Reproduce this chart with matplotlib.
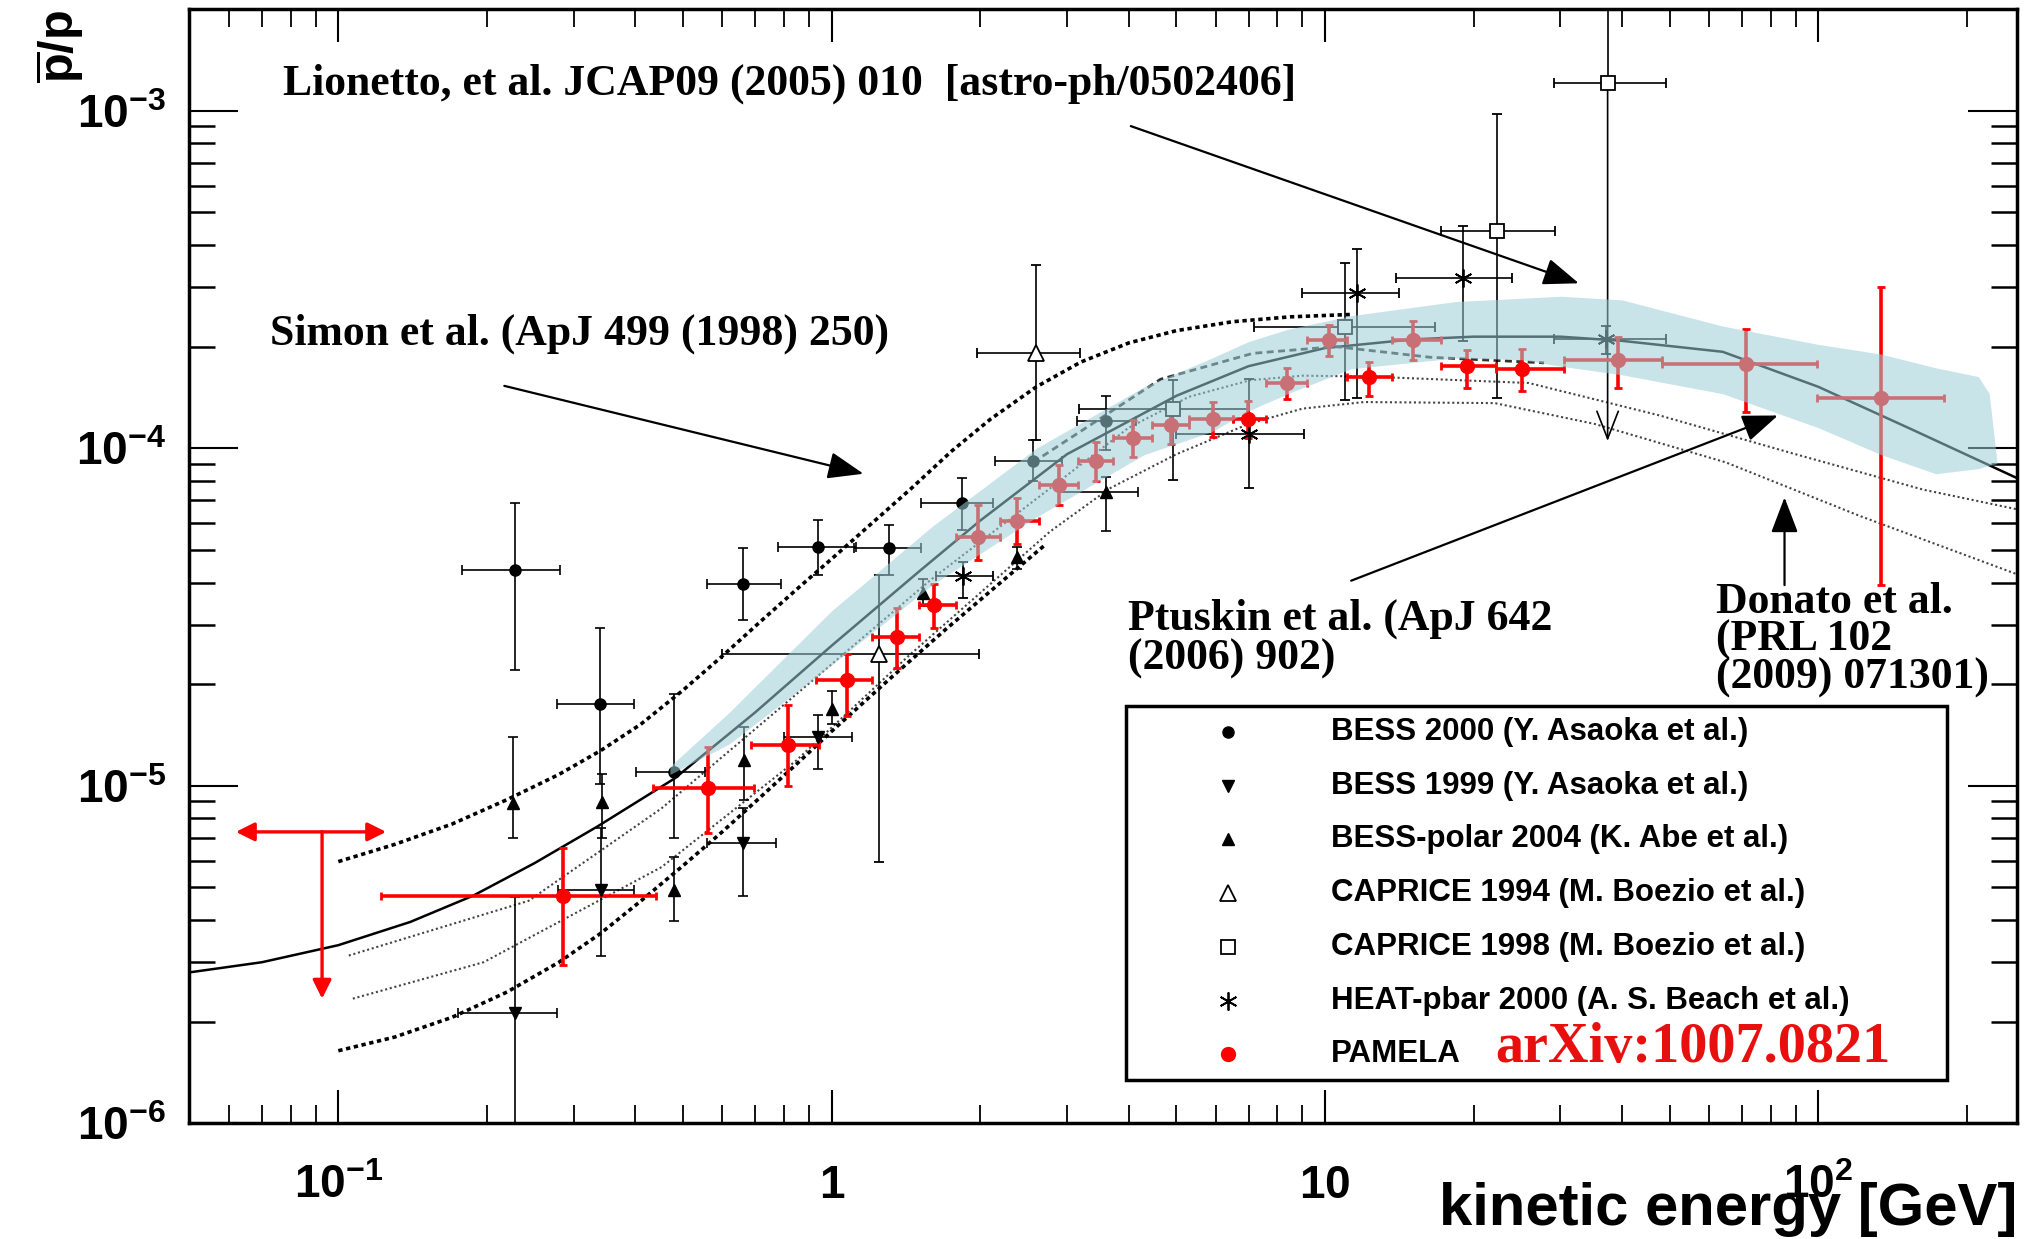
import numpy as np
import matplotlib
matplotlib.use("Agg")
import matplotlib.pyplot as plt
from matplotlib.patches import Rectangle
from matplotlib.ticker import FixedLocator, FixedFormatter, LogLocator, NullFormatter

plt.rcParams["font.family"] = ["Liberation Sans", "DejaVu Sans"]
plt.rcParams["mathtext.fontset"] = "custom"
plt.rcParams["mathtext.rm"] = "Liberation Sans"
plt.rcParams["mathtext.bf"] = "Liberation Sans:bold"
plt.rcParams["mathtext.it"] = "Liberation Sans:italic"

# ---------------- theory curves (kinetic energy [GeV] -> pbar/p) ----------------
ptuskin_x = [0.05, 0.07, 0.1, 0.14, 0.188, 0.25, 0.335, 0.48, 0.7, 1.0, 1.5, 2.0, 3.0, 5.0, 7.0, 10, 15,
             20, 30, 40, 64, 100, 154, 253]
ptuskin_y = [2.8e-6, 3.0e-6, 3.37e-6, 3.95e-6, 4.73e-6, 5.9e-6, 7.57e-6, 1.05e-5, 1.65e-5, 2.6e-5, 4.3e-5,
             6.1e-5, 9.6e-5, 1.43e-4, 1.75e-4, 1.98e-4, 2.1e-4, 2.14e-4, 2.14e-4, 2.08e-4, 1.93e-4,
             1.52e-4, 1.14e-4, 8.15e-5]

simon_hi_x = [0.1, 0.13, 0.17, 0.22, 0.28, 0.34, 0.41, 0.5, 0.6, 0.72, 0.86, 1.0, 1.2, 1.45, 1.75, 2.1,
              2.6, 3.2, 4.0, 5.0, 6.5, 8.5, 11.3]
simon_hi_y = [5.96e-6, 6.7e-6, 7.7e-6, 9.1e-6, 1.08e-5, 1.27e-5, 1.52e-5, 1.92e-5, 2.42e-5, 3.08e-5,
              3.88e-5, 4.7e-5, 5.95e-5, 7.6e-5, 9.8e-5, 1.22e-4, 1.52e-4, 1.80e-4, 2.05e-4, 2.23e-4,
              2.37e-4, 2.45e-4, 2.49e-4]

simon_lo_x = [0.1, 0.13, 0.17, 0.22, 0.28, 0.34, 0.41, 0.5, 0.6, 0.72, 0.86, 1.0, 1.3, 1.7, 2.2, 2.72]
simon_lo_y = [1.64e-6, 1.8e-6, 2.06e-6, 2.45e-6, 3.0e-6, 3.65e-6, 4.55e-6, 5.8e-6, 7.3e-6, 9.3e-6,
              1.18e-5, 1.45e-5, 2.05e-5, 2.9e-5, 4.0e-5, 5.2e-5]

donato_hi_x = [0.105, 0.243, 0.452, 0.849, 1.59, 2.77, 4.0, 5.3, 7.05, 9.0, 12.3, 25.9, 47.7, 88.5, 163, 253]
donato_hi_y = [3.14e-6, 4.56e-6, 8.57e-6, 1.87e-5, 4.08e-5, 7.6e-5, 1.15e-4, 1.42e-4, 1.59e-4, 1.64e-4,
               1.63e-4, 1.56e-4, 1.25e-4, 9.66e-5, 7.54e-5, 6.59e-5]

donato_lo_x = [0.107, 0.197, 0.452, 0.849, 1.43, 2.77, 3.66, 5.0, 7.0, 9.0, 12.0, 22.1, 35.2, 64.9, 121, 253]
donato_lo_y = [2.34e-6, 3.0e-6, 5.74e-6, 1.19e-5, 2.42e-5, 5.66e-5, 7.6e-5, 9.6e-5, 1.18e-4, 1.31e-4,
               1.37e-4, 1.36e-4, 1.18e-4, 9.08e-5, 6.31e-5, 4.23e-5]

mid_x = [2.56, 4.64, 7.14, 10.5, 16.3, 27.8]
mid_y = [9.08e-5, 1.60e-4, 1.91e-4, 2.0e-4, 1.86e-4, 1.79e-4]

band_x = [0.47, 0.62, 1.0, 1.6, 2.6, 4.3, 5.9, 7.0, 8.4, 11.3, 18.4, 25, 30, 40, 64, 100, 134, 173, 211, 222, 230]
band_hi = [1.14e-5, 1.65e-5, 3.3e-5, 5.87e-5, 1.0e-4, 1.52e-4, 1.85e-4, 2.07e-4, 2.25e-4, 2.47e-4, 2.72e-4,
           2.78e-4, 2.82e-4, 2.75e-4, 2.30e-4, 2.03e-4, 1.9e-4, 1.73e-4, 1.63e-4, 1.45e-4, 9.2e-5]
band_lo = [1.08e-5, 1.33e-5, 2.28e-5, 3.94e-5, 6.25e-5, 9.57e-5, 1.12e-4, 1.29e-4, 1.45e-4, 1.72e-4, 1.85e-4,
           1.83e-4, 1.75e-4, 1.65e-4, 1.45e-4, 1.15e-4, 9.57e-5, 8.4e-5, 8.7e-5, 8.9e-5, 9.0e-5]

# ---------------- measurements: x, y, x range, y range ----------------
bess00_x = [0.228, 0.339, 0.479, 0.660, 0.938, 1.306, 1.835, 2.56, 3.60]
bess00_y = [4.35e-5, 1.75e-5, 1.10e-5, 3.97e-5, 5.10e-5, 5.05e-5, 6.89e-5, 9.18e-5, 1.20e-4]
bess00_xlo = [0.178, 0.278, 0.401, 0.559, 0.780, 1.11, 1.52, 2.14, 3.14]
bess00_xhi = [0.281, 0.397, 0.553, 0.789, 1.12, 1.52, 2.12, 2.93, 4.14]
bess00_ylo = [2.20e-5, 1.01e-5, 7.0e-6, 3.10e-5, 4.20e-5, 4.20e-5, 5.71e-5, 8.0e-5, 9.9e-5]
bess00_yhi = [6.89e-5, 2.94e-5, 1.87e-5, 5.06e-5, 6.14e-5, 5.94e-5, 8.15e-5, 1.06e-4, 1.43e-4]

bess99_x = [0.228, 0.340, 0.660, 0.940]
bess99_y = [2.12e-6, 4.91e-6, 6.76e-6, 1.39e-5]
bess99_xlo = [0.175, 0.279, 0.559, 0.80]
bess99_xhi = [0.278, 0.397, 0.77, 1.10]
bess99_ylo = [5e-7, 3.14e-6, 4.7e-6, 1.12e-5]
bess99_yhi = [4.68e-6, 7.5e-6, 8.6e-6, 1.62e-5]

polar_x = [0.226, 0.343, 0.479, 0.665, 1.00, 1.53, 2.38, 3.60]
polar_y = [8.87e-6, 8.97e-6, 4.91e-6, 1.19e-5, 1.69e-5, 3.73e-5, 4.75e-5, 7.40e-5]
polar_xlo = [0.226, 0.343, 0.479, 0.665, 1.00, 1.53, 2.38, 2.89]
polar_xhi = [0.226, 0.343, 0.479, 0.665, 1.00, 1.53, 2.38, 4.17]
polar_ylo = [6.98e-6, 6.98e-6, 3.98e-6, 9.1e-6, 1.52e-5, 3.4e-5, 4.4e-5, 5.7e-5]
polar_yhi = [1.39e-5, 1.08e-5, 6.17e-6, 1.49e-5, 1.91e-5, 4.1e-5, 5.1e-5, 8.2e-5]

cap94_x = [1.245, 2.59]
cap94_y = [2.46e-5, 1.91e-4]
cap94_xlo = [0.60, 1.97]
cap94_xhi = [1.99, 3.19]
cap94_ylo = [5.94e-6, 1.06e-4]
cap94_yhi = [4.2e-5, 3.49e-4]

cap98_x = [4.92, 11.0, 22.3, 37.4]
cap98_y = [1.31e-4, 2.29e-4, 4.41e-4, 1.21e-3]
cap98_xlo = [3.17, 7.19, 17.2, 29.1]
cap98_xhi = [7.0, 16.7, 29.2, 49.2]
cap98_ylo = [8.03e-5, 1.39e-4, 1.41e-4, 1.21e-3]
cap98_yhi = [1.59e-4, 3.53e-4, 9.75e-4, 3.0e-3]
cap98_limit_y = 1.05e-4  # open arrow of the last point

heat_x = [1.85, 7.0, 11.6, 19.0, 37.2]
heat_y = [4.17e-5, 1.10e-4, 2.88e-4, 3.20e-4, 2.11e-4]
heat_xlo = [1.63, 5.0, 9.0, 13.9, 29.1]
heat_xhi = [2.12, 9.05, 14.1, 23.9, 49.2]
heat_ylo = [3.6e-5, 7.6e-5, 1.41e-4, 2.08e-4, 1.9e-4]
heat_yhi = [4.6e-5, 1.6e-4, 3.9e-4, 4.56e-4, 2.3e-4]

pamela_x = [0.285, 0.562, 0.814, 1.075, 1.355, 1.615, 1.98, 2.38, 2.89, 3.43, 4.09, 4.87, 5.92, 6.97,
            8.36, 10.2, 12.3, 15.1, 19.4, 25.1, 39.3, 71.2, 134]
pamela_y = [4.72e-6, 9.86e-6, 1.32e-5, 2.06e-5, 2.76e-5, 3.42e-5, 5.47e-5, 6.08e-5, 7.8e-5, 9.14e-5,
            1.07e-4, 1.17e-4, 1.22e-4, 1.22e-4, 1.56e-4, 2.09e-4, 1.63e-4, 2.09e-4, 1.75e-4, 1.72e-4,
            1.83e-4, 1.77e-4, 1.41e-4]
pamela_xlo = [0.122, 0.435, 0.687, 0.93, 1.21, 1.50, 1.79, 2.19, 2.63, 3.16, 3.72, 4.47, 5.3, 6.5,
              7.6, 9.2, 11.1, 13.7, 17.2, 22.2, 30.5, 48.3, 99.4]
pamela_xhi = [0.441, 0.695, 0.941, 1.21, 1.50, 1.79, 2.19, 2.63, 3.16, 3.72, 4.47, 5.3, 6.5, 7.6,
              9.2, 11.1, 13.7, 17.2, 22.2, 30.5, 48.3, 99.4, 180]
pamela_ylo = [2.95e-6, 7.24e-6, 1.0e-5, 1.61e-5, 2.23e-5, 2.94e-5, 4.67e-5, 5.2e-5, 6.8e-5, 8.0e-5,
              9.4e-5, 1.03e-4, 1.08e-4, 1.07e-4, 1.40e-4, 1.87e-4, 1.43e-4, 1.83e-4, 1.51e-4, 1.48e-4,
              1.51e-4, 1.28e-4, 3.94e-5]
pamela_yhi = [6.56e-6, 1.30e-5, 1.73e-5, 2.46e-5, 3.36e-5, 3.97e-5, 6.78e-5, 7.1e-5, 8.9e-5, 1.04e-4,
              1.21e-4, 1.32e-4, 1.37e-4, 1.38e-4, 1.73e-4, 2.31e-4, 1.80e-4, 2.38e-4, 1.95e-4, 1.97e-4,
              2.14e-4, 2.25e-4, 3.0e-4]

# PAMELA upper limit in the lowest bin
pamela_ul_x = 0.0927
pamela_ul_y = 7.3e-6
pamela_ul_xlo = 0.062
pamela_ul_xhi = 0.125
pamela_ul_yend = 2.34e-6

# ---------------- axes text ----------------
xtick_vals = [0.1, 1, 10, 100]
xtick_labels = [r"$\mathbf{10^{-1}}$", r"$\mathbf{1}$", r"$\mathbf{10}$", r"$\mathbf{10^{2}}$"]
ytick_vals = [1e-6, 1e-5, 1e-4, 1e-3]
ytick_labels = [r"$\mathbf{10^{-6}}$", r"$\mathbf{10^{-5}}$", r"$\mathbf{10^{-4}}$", r"$\mathbf{10^{-3}}$"]

legend_labels = ["BESS 2000 (Y. Asaoka et al.)", "BESS 1999 (Y. Asaoka et al.)",
                 "BESS-polar 2004 (K. Abe et al.)", "CAPRICE 1994 (M. Boezio et al.)",
                 "CAPRICE 1998 (M. Boezio et al.)", "HEAT-pbar 2000 (A. S. Beach et al.)", "PAMELA"]

# (text, x, y, line spacing) for the literature notes, and (start, tip) of their arrows
notes = [
    ("Lionetto, et al. JCAP09 (2005) 010  [astro-ph/0502406]", 0.0773, 1.2e-3, 1.0),
    ("Simon et al. (ApJ 499 (1998) 250)", 0.0727, 2.18e-4, 1.0),
    ("Ptuskin et al. (ApJ 642\n(2006) 902)", 3.99, 2.73e-5, 1.0),
    ("Donato et al.\n(PRL 102\n(2009) 071301)", 61.9, 2.7e-5, 0.93),
]
note_arrows = [
    ((4.04, 9.0e-4), (32.7, 3.08e-4)),
    ((0.217, 1.53e-4), (1.16, 8.4e-5)),
    ((11.3, 4.05e-5), (82.8, 1.25e-4)),
    ((85.4, 3.93e-5), (85.4, 7.15e-5)),
]

fig = plt.figure(figsize=(20.38, 12.39), dpi=100)
ax = fig.add_axes([0.0925, 0.0934, 0.8973, 0.8993])
ax.set_xscale("log")
ax.set_yscale("log")
ax.set_xlim(0.0497, 253)
ax.set_ylim(1e-6, 2.0e-3)

# theory
ax.plot(ptuskin_x, ptuskin_y, color="black", lw=1.8, zorder=2)
ax.plot(simon_hi_x, simon_hi_y, color="black", lw=2.6, ls=(0, (1.2, 1.0)), zorder=2)
ax.plot(simon_lo_x, simon_lo_y, color="black", lw=2.6, ls=(0, (1.2, 1.0)), zorder=2)
ax.plot(donato_hi_x, donato_hi_y, color="#444444", lw=1.5, ls=(0, (1.0, 1.3)), zorder=2)
ax.plot(donato_lo_x, donato_lo_y, color="#444444", lw=1.5, ls=(0, (1.0, 1.3)), zorder=2)
ax.plot(mid_x, mid_y, color="#333333", lw=2.0, ls=(0, (2.5, 1.6)), zorder=2)
ax.fill_between(band_x, band_lo, band_hi, color="#9bced7", alpha=0.55, lw=0, zorder=4)


def draw_points(x, y, xlo, xhi, ylo, yhi, **style):
    x = np.asarray(x)
    y = np.asarray(y)
    xerr = [x - np.asarray(xlo), np.asarray(xhi) - x]
    yerr = [y - np.asarray(ylo), np.asarray(yhi) - y]
    ax.errorbar(x, y, xerr=xerr, yerr=yerr, ls="none", **style)


black = dict(color="black", ecolor="black", elinewidth=1.2, capsize=3.5, capthick=1.2, zorder=3)
draw_points(bess00_x, bess00_y, bess00_xlo, bess00_xhi, bess00_ylo, bess00_yhi, marker="o", ms=8, **black)
draw_points(bess99_x, bess99_y, bess99_xlo, bess99_xhi, bess99_ylo, bess99_yhi, marker="v", ms=8, **black)
draw_points(polar_x, polar_y, polar_xlo, polar_xhi, polar_ylo, polar_yhi, marker="^", ms=8, **black)
draw_points(cap94_x, cap94_y, cap94_xlo, cap94_xhi, cap94_ylo, cap94_yhi, marker="^", ms=12,
            mfc="white", mec="black", mew=1.3, **black)
draw_points(cap98_x, cap98_y, cap98_xlo, cap98_xhi, cap98_ylo, cap98_yhi, marker="s", ms=10,
            mfc="white", mec="black", mew=1.3, **black)
draw_points(heat_x, heat_y, heat_xlo, heat_xhi, heat_ylo, heat_yhi, marker=(6, 2, 0), ms=13,
            mew=1.3, **black)
ax.annotate("", xy=(cap98_x[-1], cap98_limit_y), xytext=(cap98_x[-1], cap98_y[-1]),
            arrowprops=dict(arrowstyle="->,head_length=0.9,head_width=0.35", color="black", lw=1.2,
                            mutation_scale=22, shrinkA=0, shrinkB=0), zorder=3)

draw_points(pamela_x, pamela_y, pamela_xlo, pamela_xhi, pamela_ylo, pamela_yhi, marker="o", ms=10,
            color="red", ecolor="red", elinewidth=2.6, capsize=3, capthick=2.0, zorder=3)
red_arrow = dict(arrowstyle="-|>,head_length=0.8,head_width=0.4", color="red", lw=2.4,
                 mutation_scale=14, shrinkA=0, shrinkB=0)
for end in [(pamela_ul_xlo, pamela_ul_y), (pamela_ul_xhi, pamela_ul_y), (pamela_ul_x, pamela_ul_yend)]:
    ax.annotate("", xy=end, xytext=(pamela_ul_x, pamela_ul_y), arrowprops=red_arrow, zorder=3)

# literature notes
for text, tx, ty, spacing in notes:
    ax.text(tx, ty, text, family="Liberation Serif", weight="bold", fontsize=31.5, ha="left", va="center",
            linespacing=spacing, zorder=5)
for start, tip in note_arrows:
    ax.annotate("", xy=tip, xytext=start,
                arrowprops=dict(arrowstyle="-|>,head_length=1.0,head_width=0.38", color="black", lw=1.6,
                                mutation_scale=22, shrinkA=0, shrinkB=0), zorder=5)

# legend box
ax.add_patch(Rectangle((0.5124, 0.0385), 0.4492, 0.3361, transform=ax.transAxes, fc="white", ec="black",
                       lw=2.5, zorder=6))
row_y = np.linspace(0.3512, 0.0618, len(legend_labels))
legend_markers = [dict(marker="o", ms=8, color="black"),
                  dict(marker="v", ms=8, color="black"),
                  dict(marker="^", ms=8, color="black"),
                  dict(marker="^", ms=12, mfc="white", mec="black", mew=1.3),
                  dict(marker="s", ms=10, mfc="white", mec="black", mew=1.3),
                  dict(marker=(6, 2, 0), ms=13, color="black", mew=1.3),
                  dict(marker="o", ms=10, color="red")]
for label, yy, mk in zip(legend_labels, row_y, legend_markers):
    ax.plot([0.5686], [yy], transform=ax.transAxes, ls="none", zorder=7, clip_on=False, **mk)
    ax.text(0.6247, yy, label, transform=ax.transAxes, fontsize=22.5, weight="bold", ha="left", va="center",
            zorder=7)
ax.text(0.7143, row_y[-1] + 0.006, "arXiv:1007.0821", transform=ax.transAxes, color="#e8100f",
        family="Liberation Serif", weight="bold", fontsize=40.5, ha="left", va="center", zorder=7)

# axes styling
for sp in ax.spines.values():
    sp.set_linewidth(2.5)
ax.xaxis.set_major_locator(FixedLocator(xtick_vals))
ax.xaxis.set_major_formatter(FixedFormatter(xtick_labels))
ax.xaxis.set_minor_locator(LogLocator(base=10, subs=np.arange(2, 10), numticks=20))
ax.xaxis.set_minor_formatter(NullFormatter())
ax.yaxis.set_major_locator(FixedLocator(ytick_vals))
ax.yaxis.set_major_formatter(FixedFormatter(ytick_labels))
ax.yaxis.set_minor_locator(LogLocator(base=10, subs=np.arange(2, 10), numticks=20))
ax.yaxis.set_minor_formatter(NullFormatter())
ax.tick_params(which="both", direction="in", top=True, right=True, labelsize=33, colors="black")
ax.tick_params(axis="x", which="major", length=24, width=1.5, pad=54)
ax.tick_params(axis="x", which="minor", length=13, width=1.3)
ax.tick_params(axis="y", which="major", length=35, width=1.5, pad=16)
ax.tick_params(axis="y", which="minor", length=19, width=1.8)
for t in ax.xaxis.get_major_ticks():
    t.label1.set_verticalalignment("baseline")

xlab = ax.set_xlabel("kinetic energy [GeV]", fontsize=43, weight="bold", loc="right")
xlab.set_verticalalignment("bottom")
ax.xaxis.set_label_coords(1.0, -0.102)
ax.set_ylabel(r"$\mathbf{\overline{p}/p}$", fontsize=35, loc="top")
ax.yaxis.set_label_coords(-0.056, 0.999)

fig.savefig("out.png", dpi=100)
